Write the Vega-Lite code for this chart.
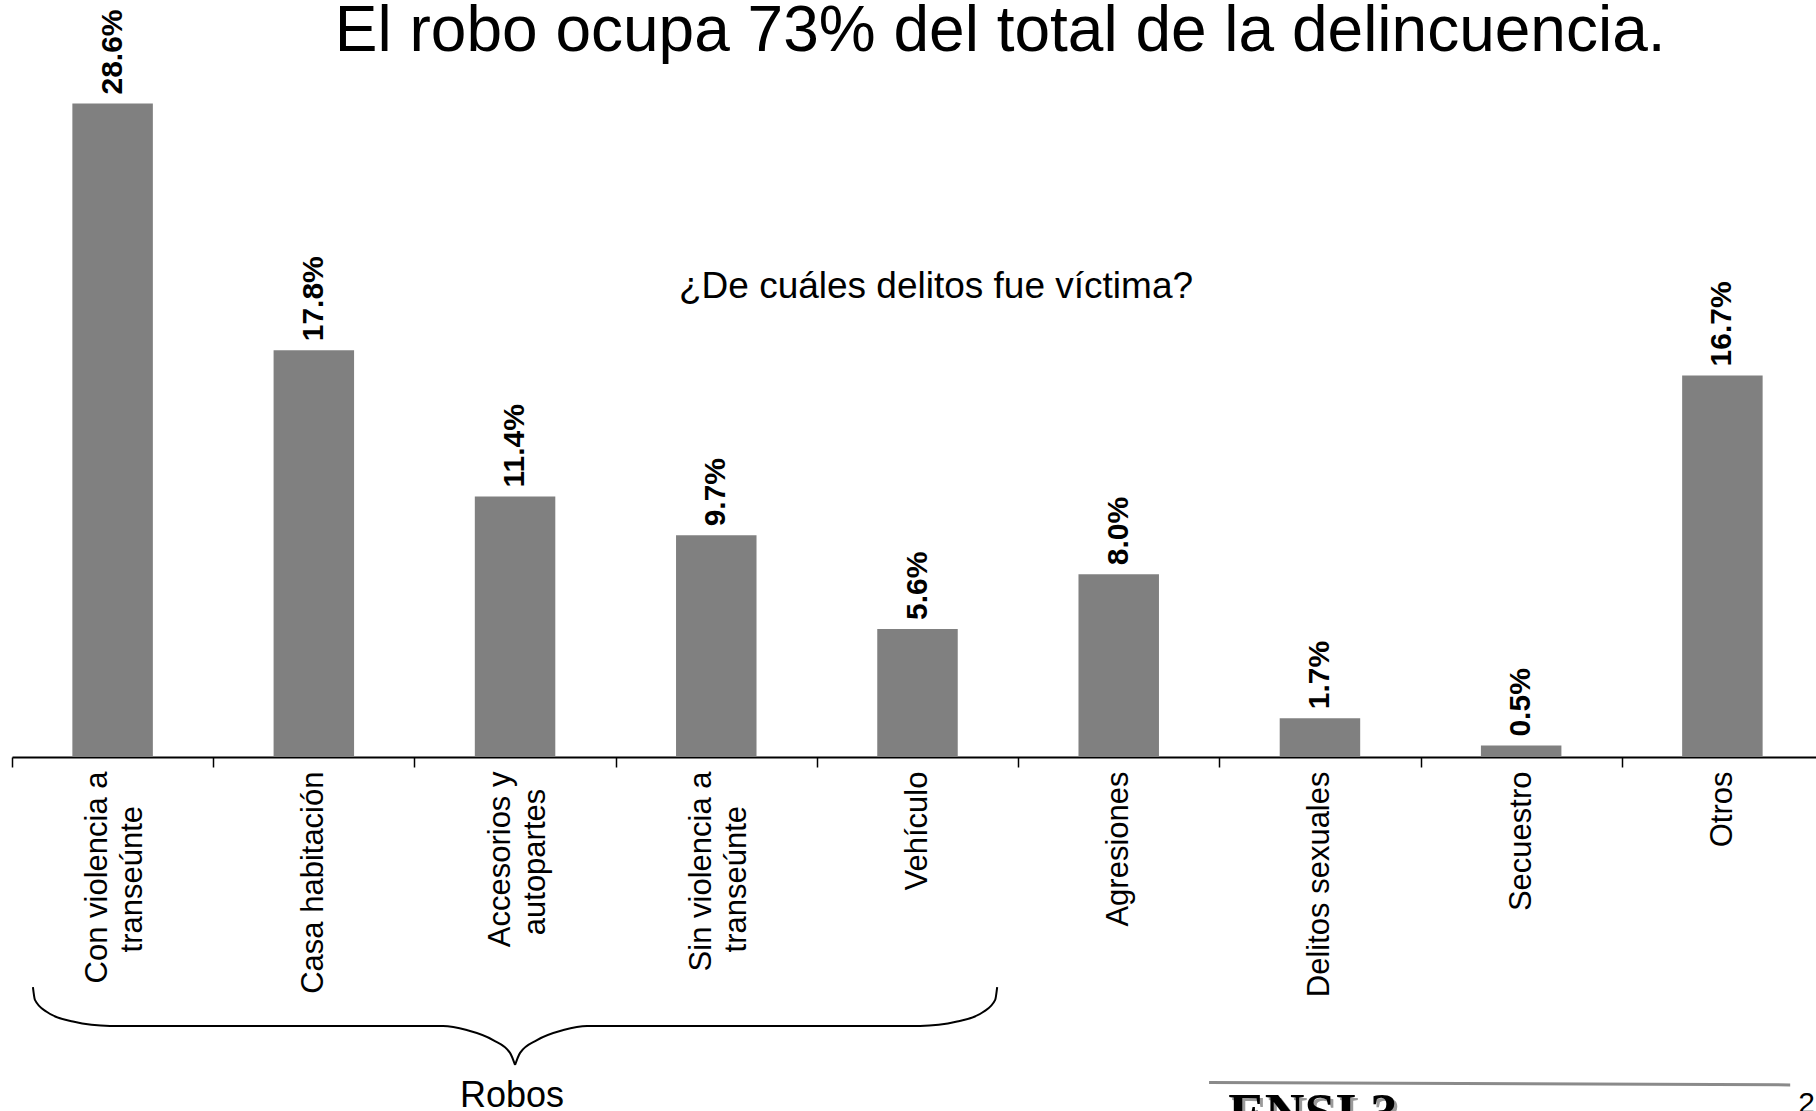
{
  "$schema": "https://vega.github.io/schema/vega-lite/v6.json",
  "width": 1811,
  "height": 754,
  "autosize": "none",
  "padding": {"left": 12, "top": 3, "right": -7, "bottom": 354},
  "background": "white",
  "config": {"view": {"stroke": null}, "font": "Liberation Sans"},
  "datasets": {
    "bars": [
      {"delito": "Con violencia a|transeúnte", "share": 0.286},
      {"delito": "Casa habitación", "share": 0.178},
      {"delito": "Accesorios y|autopartes", "share": 0.114},
      {"delito": "Sin violencia a|transeúnte", "share": 0.097},
      {"delito": "Vehículo", "share": 0.056},
      {"delito": "Agresiones", "share": 0.080},
      {"delito": "Delitos sexuales", "share": 0.017},
      {"delito": "Secuestro", "share": 0.005},
      {"delito": "Otros", "share": 0.167}
    ],
    "brace": [
      {"u": 0.104, "v": -0.1007, "side": "L"},
      {"u": 0.114, "v": -0.1063, "side": "L"},
      {"u": 0.172, "v": -0.1115, "side": "L"},
      {"u": 0.303, "v": -0.1158, "side": "L"},
      {"u": 0.487, "v": -0.1177, "side": "L"},
      {"u": 2.142, "v": -0.1177, "side": "L"},
      {"u": 2.260, "v": -0.1195, "side": "L"},
      {"u": 2.391, "v": -0.1239, "side": "L"},
      {"u": 2.475, "v": -0.1295, "side": "L"},
      {"u": 2.500, "v": -0.1348, "side": "L"},
      {"u": 2.500, "v": -0.1348, "side": "R"},
      {"u": 2.525, "v": -0.1295, "side": "R"},
      {"u": 2.609, "v": -0.1239, "side": "R"},
      {"u": 2.740, "v": -0.1195, "side": "R"},
      {"u": 2.858, "v": -0.1177, "side": "R"},
      {"u": 4.513, "v": -0.1177, "side": "R"},
      {"u": 4.697, "v": -0.1158, "side": "R"},
      {"u": 4.828, "v": -0.1115, "side": "R"},
      {"u": 4.886, "v": -0.1063, "side": "R"},
      {"u": 4.896, "v": -0.1007, "side": "R"}
    ]
  },
  "layer": [
    {
      "data": {"name": "bars"},
      "layer": [
        {
          "mark": {"type": "bar", "color": "#808080", "width": {"band": 0.4}},
          "encoding": {
            "x": {
              "field": "delito", "type": "nominal", "sort": null,
              "scale": {"paddingInner": 0, "paddingOuter": 0},
              "axis": {
                "title": null, "tickBand": "extent",
                "domainColor": "black", "domainWidth": 2,
                "tickColor": "black", "tickWidth": 1.5, "tickSize": 10,
                "labelAngle": -90, "labelFont": "Liberation Sans", "labelFontSize": 31,
                "labelColor": "black", "labelPadding": 4, "labelLineHeight": 35,
                "labelLimit": 600, "labelOverlap": false, "labelBound": false,
                "labelOffset": {"condition": {"test": "indexof(datum.label, '|') >= 0", "value": -15}, "value": 0},
                "labelExpr": "indexof(datum.label, '|') >= 0 ? [split(datum.label, '|')[0], split(datum.label, '|')[1] + (indexof(datum.label, 'Accesorios') >= 0 ? '\u00a0\u00a0\u200b' : '\u00a0\u00a0\u00a0\u00a0\u200b')] : datum.label"
              }
            },
            "y": {"field": "share", "type": "quantitative", "scale": {"domain": [0, 0.33], "nice": false, "zero": true}, "axis": null}
          }
        },
        {
          "mark": {"type": "text", "angle": 270, "align": "left", "baseline": "middle", "dx": 9, "font": "Liberation Sans", "fontSize": 30, "fontWeight": "bold", "color": "black"},
          "encoding": {
            "x": {"field": "delito", "type": "nominal", "sort": null},
            "y": {"field": "share", "type": "quantitative", "scale": {"domain": [0, 0.33], "nice": false}, "axis": null},
            "text": {"field": "share", "type": "quantitative", "format": ".1%"}
          }
        }
      ]
    },
    {
      "layer": [
        {
          "data": {"name": "brace"},
          "mark": {"type": "line", "color": "black", "strokeWidth": 2, "interpolate": "monotone"},
          "encoding": {
            "x": {"field": "u", "type": "quantitative", "scale": {"domain": [0, 9], "nice": false, "zero": false}, "axis": null},
            "y": {"field": "v", "type": "quantitative", "scale": {"domain": [0, 0.33], "nice": false}, "axis": null},
            "detail": {"field": "side", "type": "nominal"}
          }
        },
        {
          "data": {"values": [{}]},
          "mark": {"type": "text", "text": "El robo ocupa 73% del total de la delincuencia.", "font": "Liberation Sans", "fontSize": 64, "align": "center", "baseline": "alphabetic", "color": "black"},
          "encoding": {
            "x": {"datum": 4.911, "type": "quantitative", "scale": {"domain": [0, 9], "nice": false, "zero": false}, "axis": null},
            "y": {"datum": 0.309, "type": "quantitative", "scale": {"domain": [0, 0.33], "nice": false}, "axis": null}
          }
        },
        {
          "data": {"values": [{}]},
          "mark": {"type": "text", "text": "¿De cuáles delitos fue víctima?", "font": "Liberation Sans", "fontSize": 37, "align": "center", "baseline": "alphabetic", "color": "black"},
          "encoding": {
            "x": {"datum": 4.592, "type": "quantitative", "scale": {"domain": [0, 9], "nice": false, "zero": false}, "axis": null},
            "y": {"datum": 0.2011, "type": "quantitative", "scale": {"domain": [0, 0.33], "nice": false}, "axis": null}
          }
        },
        {
          "data": {"values": [{}]},
          "mark": {"type": "text", "text": "Robos", "font": "Liberation Sans", "fontSize": 36, "align": "center", "baseline": "alphabetic", "color": "black"},
          "encoding": {
            "x": {"datum": 2.485, "type": "quantitative", "scale": {"domain": [0, 9], "nice": false, "zero": false}, "axis": null},
            "y": {"datum": -0.1532, "type": "quantitative", "scale": {"domain": [0, 0.33], "nice": false}, "axis": null}
          }
        },
        {
          "data": {"values": [{}]},
          "mark": {"type": "rule", "color": "#8a8a8a", "strokeWidth": 3},
          "encoding": {
            "x": {"datum": 5.949, "type": "quantitative", "scale": {"domain": [0, 9], "nice": false, "zero": false}, "axis": null},
            "x2": {"datum": 8.837},
            "y": {"datum": -0.1425, "type": "quantitative", "scale": {"domain": [0, 0.33], "nice": false}, "axis": null},
            "y2": {"datum": -0.1435}
          }
        },
        {
          "data": {"values": [{}]},
          "mark": {"type": "text", "text": "ENSI 3", "font": "Liberation Serif", "fontSize": 55, "fontWeight": "bold", "align": "left", "baseline": "alphabetic", "color": "#9a9a9a", "dx": 3, "dy": 3},
          "encoding": {
            "x": {"datum": 6.044, "type": "quantitative", "scale": {"domain": [0, 9], "nice": false, "zero": false}, "axis": null},
            "y": {"datum": -0.1637, "type": "quantitative", "scale": {"domain": [0, 0.33], "nice": false}, "axis": null}
          }
        },
        {
          "data": {"values": [{}]},
          "mark": {"type": "text", "text": "ENSI 3", "font": "Liberation Serif", "fontSize": 55, "fontWeight": "bold", "align": "left", "baseline": "alphabetic", "color": "black"},
          "encoding": {
            "x": {"datum": 6.044, "type": "quantitative", "scale": {"domain": [0, 9], "nice": false, "zero": false}, "axis": null},
            "y": {"datum": -0.1637, "type": "quantitative", "scale": {"domain": [0, 0.33], "nice": false}, "axis": null}
          }
        },
        {
          "data": {"values": [{}]},
          "mark": {"type": "text", "text": "2", "font": "Liberation Sans", "fontSize": 30, "align": "left", "baseline": "alphabetic", "color": "black"},
          "encoding": {
            "x": {"datum": 8.877, "type": "quantitative", "scale": {"domain": [0, 9], "nice": false, "zero": false}, "axis": null},
            "y": {"datum": -0.1558, "type": "quantitative", "scale": {"domain": [0, 0.33], "nice": false}, "axis": null}
          }
        }
      ]
    }
  ],
  "resolve": {"scale": {"x": "independent"}}
}
